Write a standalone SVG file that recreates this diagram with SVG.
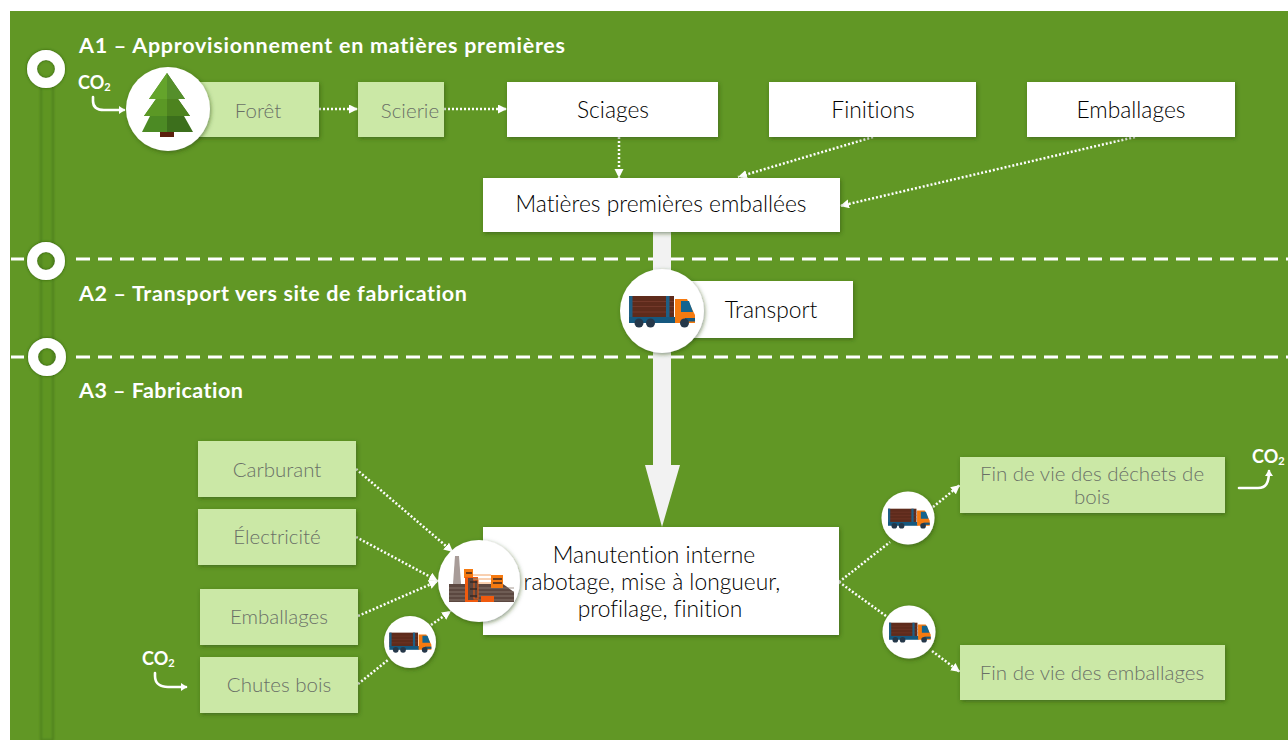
<svg xmlns="http://www.w3.org/2000/svg" width="1288" height="740" viewBox="0 0 1288 740">
<style>
text{font-family:"Lato","Liberation Sans",sans-serif;font-variant-ligatures:none}
.t{font-size:21.500px;fill:#fff;font-weight:700}
.w{fill:#fff;filter:url(#sh)}
.g{fill:#cbe8a6;filter:url(#sh)}
.wt{font-size:22.800px;fill:#000;text-anchor:middle;font-weight:300}
.gt{font-size:20.500px;fill:#6a7066;text-anchor:middle;font-weight:300}
.c{fill:#fff;filter:url(#sh)}
.d{fill:none;stroke:#fff;stroke-width:2.500;stroke-dasharray:2 2;marker-end:url(#ah)}
.n{fill:none;stroke:#fff;stroke-width:2.500;stroke-dasharray:2 2}
.s{fill:none;stroke:#fff;stroke-width:2.600;stroke-linecap:round}
.co{font-size:18px;fill:#fff;font-weight:700}
.dash{stroke:#fff;stroke-width:3;stroke-dasharray:14 8;fill:none}
</style>
<defs>
<filter id="sh" x="-20%" y="-20%" width="140%" height="140%"><feDropShadow dx="1" dy="1.500" stdDeviation="2" flood-color="#2c4a0c" flood-opacity=".55"/></filter>
<filter id="gl" x="-30%" y="-30%" width="160%" height="160%"><feDropShadow dx="0" dy="0" stdDeviation="1.500" flood-color="#2c5a0c" flood-opacity=".9"/></filter>
<filter id="bl" x="-60%" y="-5%" width="220%" height="110%"><feGaussianBlur stdDeviation="1"/></filter>
<marker id="ah" markerUnits="userSpaceOnUse" markerWidth="10" markerHeight="10" refX="9" refY="4.500" orient="auto"><path d="M0 0L9 4.500L0 9z" fill="#fff"/></marker>
<marker id="sa" markerUnits="userSpaceOnUse" markerWidth="7" markerHeight="8" refX="5" refY="4" orient="auto"><path d="M0 0L6 4L0 8z" fill="#fff"/></marker>
<symbol id="truck" viewBox="0 0 68 33" overflow="visible">
<rect x="0" y="1" width="45" height="21" fill="#5e2b1c"/>
<path d="M0 6.500H45M0 11.500H45M0 17H45" stroke="#74392a" stroke-width="1" fill="none"/>
<rect x="0" y="1" width="3.500" height="23" fill="#1f5f86"/>
<rect x="37" y="1" width="3.500" height="23" fill="#1f5f86"/>
<rect x="0" y="22" width="47" height="6" fill="#15587f"/>
<path d="M46 4H58L66 20V28H46z" fill="#f57a10"/>
<path d="M52 6H60L64 17H52z" fill="#14648f"/>
<rect x="56" y="23" width="10" height="3.500" fill="#15587f"/>
<circle cx="10" cy="28" r="4.500" fill="#25384a"/>
<circle cx="21.500" cy="28" r="4.500" fill="#25384a"/>
<circle cx="55.500" cy="28" r="4.500" fill="#25384a"/>
</symbol>
</defs>

<rect x="0" y="0" width="1288" height="740" fill="#fff"/>
<rect x="10" y="11" width="1278" height="729" fill="#619725"/>

<g id="timeline">
<rect x="41" y="80" width="12" height="660" fill="#5f9524" stroke="#4d7f1b" stroke-width="1.800" filter="url(#bl)"/>
<path class="dash" d="M11 259H24M76 259H1288"/>
<path class="dash" d="M11 357H24M76 357H1288"/>
<g filter="url(#gl)">
<circle cx="46" cy="69" r="14" fill="none" stroke="#fff" stroke-width="10"/>
<circle cx="46" cy="261" r="14" fill="none" stroke="#fff" stroke-width="10"/>
<circle cx="47" cy="357" r="14" fill="none" stroke="#fff" stroke-width="10"/>
</g>
</g>

<g id="titles">
<text class="t" x="79" y="53" textLength="486">A1 – Approvisionnement en matières premières</text>
<text class="t" x="79" y="301" textLength="388">A2 – Transport vers site de fabrication</text>
<text class="t" x="79" y="398" textLength="164">A3 – Fabrication</text>
</g>

<g id="connectors">
<path d="M653 232H671V465H680L662 527L645 465H653z" fill="#f2f2f2"/>
<path class="d" d="M319 109H358"/>
<path class="d" d="M444 109H507"/>
<path class="d" d="M619 137V178"/>
<path class="d" d="M873 137L738 177"/>
<path class="d" d="M1135 137L840 206"/>
<path class="d" d="M356 469L453 552"/>
<path class="d" d="M356 537L438 581"/>
<path class="d" d="M358 616L438 581"/>
<path class="n" d="M358 684L388 660"/>
<path class="d" d="M431 625L451 611"/>
<path class="n" d="M839 582L890 542"/>
<path class="d" d="M933 507L960 485"/>
<path class="n" d="M839 582L886 616"/>
<path class="d" d="M932 651L960 672"/>
<path class="s" d="M93 97V101C93 108 98 110 104 110H124" marker-end="url(#sa)"/>
<path class="s" d="M155 673V676C155 684 161 687 168 687H186" marker-end="url(#sa)"/>
<path class="s" d="M1239 488H1258C1266 488 1269 483 1269 471" marker-end="url(#sa)"/>
</g>

<g id="n-foret"><rect class="g" x="190" y="82" width="129" height="55"/><text class="gt" x="258" y="118">Forêt</text></g>
<g id="n-tree">
<circle class="c" cx="168" cy="109" r="42"/>
<path d="M167 73L185 99H178L190 116H184L193 132H167z" fill="#3c6f1c"/>
<path d="M167 73L149 99H156L144 116H150L142 132H167z" fill="#4c8a24"/>
<path d="M167 73L185 99H167z" fill="#558f2b"/>
<path d="M167 73L149 99H167z" fill="#64a42b"/>
<path d="M167 99V116H190L178 99z" fill="#4d831f"/>
<path d="M167 99V116H144L156 99z" fill="#5b9825"/>
<rect x="160" y="132" width="14" height="5" fill="#5b1f0e"/>
</g>
<g id="n-scierie"><rect class="g" x="358" y="82" width="86" height="55"/><text class="gt" x="410" y="118">Scierie</text></g>
<g id="n-sciages"><rect class="w" x="507" y="82" width="211" height="55"/><text class="wt" x="613" y="118">Sciages</text></g>
<g id="n-finitions"><rect class="w" x="769" y="82" width="207" height="55"/><text class="wt" x="873" y="118">Finitions</text></g>
<g id="n-emballages1"><rect class="w" x="1027" y="82" width="208" height="55"/><text class="wt" x="1131" y="118">Emballages</text></g>
<g id="n-matieres"><rect class="w" x="483" y="178" width="357" height="54"/><text class="wt" x="661" y="212">Matières premières emballées</text></g>
<g id="n-transport"><rect class="w" x="690" y="281" width="163" height="57"/><text class="wt" x="771" y="318">Transport</text></g>
<g id="n-truck-main"><circle class="c" cx="662" cy="311" r="42"/><use href="#truck" x="629" y="295" width="68" height="33"/></g>
<g id="n-carburant"><rect class="g" x="198" y="441" width="158" height="56"/><text class="gt" x="277" y="477">Carburant</text></g>
<g id="n-electricite"><rect class="g" x="198" y="509" width="158" height="56"/><text class="gt" x="277" y="544">Électricité</text></g>
<g id="n-emballages2"><rect class="g" x="200" y="589" width="158" height="56"/><text class="gt" x="279" y="624">Emballages</text></g>
<g id="n-chutes"><rect class="g" x="200" y="657" width="158" height="56"/><text class="gt" x="279" y="692">Chutes bois</text></g>
<g id="n-manutention"><rect class="w" x="483" y="527" width="356" height="108"/>
<text class="wt" x="654" y="563">Manutention interne</text>
<text class="wt" x="652" y="590">rabotage, mise à longueur,</text>
<text class="wt" x="660" y="617">profilage, finition</text></g>
<g id="n-factory"><circle class="c" cx="479" cy="581" r="41"/>
<path d="M455 556H459L461 584H453z" fill="#a89c98"/>
<path d="M449 584H503L514 592V602H449z" fill="#5b4740"/>
<path d="M449 588H514M449 592H514M449 596H514M449 600H514" stroke="#8d7d75" stroke-width=".8" fill="none"/>
<rect x="464" y="569" width="9" height="9" fill="#f57a10"/>
<rect x="465" y="577" width="13" height="25" fill="#f05a0e"/>
<rect x="468" y="578" width="10" height="22" fill="#5b4740"/>
<rect x="474" y="580" width="4" height="19" fill="none" stroke="#f05a0e" stroke-width="1"/>
<rect x="491" y="575" width="12" height="13" fill="#f57a10"/>
<path d="M473 575H491M473 579H491M478 583H491" stroke="#f2a060" stroke-width="1" fill="none"/>
<rect x="481" y="596" width="13" height="6" fill="#f05a0e"/>
<path d="M466 573H472M470 582H477M470 589H477M470 596H477M493 579H502M493 583H502" stroke="#3a2822" stroke-width="1.300" fill="none"/>
</g>
<g id="n-truck-a"><circle class="c" cx="410" cy="642" r="26"/><use href="#truck" x="389" y="632" width="44" height="21"/></g>
<g id="n-truck-b"><circle class="c" cx="908" cy="518" r="26.500"/><use href="#truck" x="888" y="508" width="43" height="21"/></g>
<g id="n-truck-c"><circle class="c" cx="909" cy="632" r="26.500"/><use href="#truck" x="889" y="622" width="43" height="21"/></g>
<g id="n-fin1"><rect class="g" x="960" y="457" width="265" height="56"/>
<text class="gt" x="1092" y="481">Fin de vie des déchets de</text>
<text class="gt" x="1092" y="504">bois</text></g>
<g id="n-fin2"><rect class="g" x="960" y="645" width="265" height="55"/><text class="gt" x="1092" y="680">Fin de vie des emballages</text></g>

<g id="co2-labels">
<text class="co" x="78" y="89">CO<tspan font-size="11" dy="2">2</tspan></text>
<text class="co" x="142" y="665">CO<tspan font-size="11" dy="2">2</tspan></text>
<text class="co" x="1252" y="463">CO<tspan font-size="11" dy="2">2</tspan></text>
</g>
</svg>
